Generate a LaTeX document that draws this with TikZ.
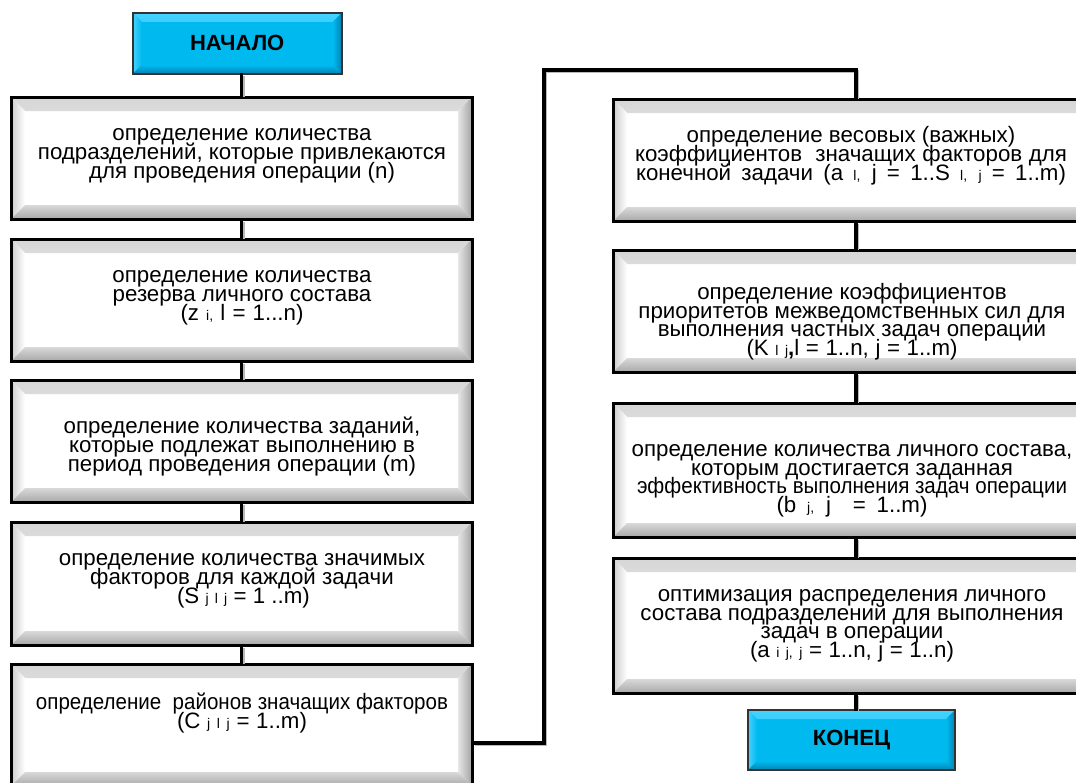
\documentclass[tikz,border=0pt]{standalone}
\usepackage{fontspec}
\usepackage{graphicx}
\setmainfont{Liberation Sans}
\usetikzlibrary{calc}
\newcommand\sm[1]{{\fontsize{14}{14}\selectfont #1}}
\newcommand\fs{\fontsize{22.3}{18.8}\selectfont\lineskiplimit=-40pt\lineskip=0pt}
\newcommand\tstrut{\rule[-5pt]{0pt}{17pt}}
\newcommand\wline[2]{\hbox to #1{\spaceskip=0.28em plus 1fil\relax #2}}
\definecolor{sky}{HTML}{00BAEF}
\definecolor{skyhi}{HTML}{45D2FF}
\definecolor{skylo}{HTML}{0082B4}
\newcommand\drawbevel[9]{%
  \shade[top color=#2,bottom color=#3] (path picture bounding box.north west) -- (path picture bounding box.north east) -- ($(path picture bounding box.north east)+(-#1,-#1)$) -- ($(path picture bounding box.north west)+(#1,-#1)$) -- cycle;
  \shade[left color=#4,right color=#5] (path picture bounding box.north west) -- ($(path picture bounding box.north west)+(#1,-#1)$) -- ($(path picture bounding box.south west)+(#1,#1)$) -- (path picture bounding box.south west) -- cycle;
  \shade[left color=#6,right color=#7] (path picture bounding box.north east) -- ($(path picture bounding box.north east)+(-#1,-#1)$) -- ($(path picture bounding box.south east)+(-#1,#1)$) -- (path picture bounding box.south east) -- cycle;
  \shade[top color=#8,bottom color=#9] (path picture bounding box.south west) -- ($(path picture bounding box.south west)+(#1,#1)$) -- ($(path picture bounding box.south east)+(-#1,#1)$) -- (path picture bounding box.south east) -- cycle;
}
\tikzset{
  wbox/.style={rectangle, draw=black, line width=3pt, fill=white, inner sep=0pt,
    minimum width=461pt, minimum height=122pt,
    path picture={\drawbevel{14pt}{gray!32}{white}{gray!40}{white}{gray!20}{gray!72}{gray!30}{gray!68}}},
  bbox/.style={rectangle, draw=black!80, line width=2pt, fill=sky, inner sep=0pt,
    minimum width=209pt, minimum height=61pt, font=\fontsize{22}{22}\selectfont\bfseries,
    path picture={\drawbevel{9pt}{skyhi}{sky}{skyhi}{sky}{sky}{skylo}{sky}{skylo}}},
  txt/.style={align=center, font=\fs, inner sep=0pt},
  conn/.style={line width=3.5pt, black, line cap=rect,
    preaction={draw=gray!55, line width=3.5pt, transform canvas={shift={(1.5pt,-1.5pt)}}}}
}
\begin{document}
\begin{tikzpicture}[x=1pt,y=-1pt]
\useasboundingbox (0,0) rectangle (1076,782);
\clip (0,0) rectangle (1076,782);

% left column
\node[bbox] (start) at (237.2,43.3) {НАЧАЛО};
\node[wbox] (b1) at (241.5,158) {};
\node[wbox] (b2) at (241.5,300) {};
\node[wbox] (b3) at (241.5,441) {};
\node[wbox, minimum height=123pt] (b4) at (241.5,583.5) {};
\node[wbox] (b5) at (241.5,725) {};

\node[txt] (t1) at (242,156) {\tstrut определение количества\\подразделений, которые привлекаются\\для проведения операции (n)\tstrut};
\node[txt] (t2) at (242,298) {\tstrut определение количества\\резерва личного состава\\\wline{123pt}{(z \sm{i,} l = 1...n)}\tstrut};
\node[txt] (t3) at (242,447) {\tstrut определение количества заданий,\\которые подлежат выполнению в\\период проведения операции (m)\tstrut};
\node[txt] (t4) at (242,581.2) {\tstrut определение количества значимых\\факторов для каждой задачи\\\wline{130pt}{(S \sm{j l j} = 1 ..m)}\tstrut};
\node[txt] (t5) at (242,713.5) {\tstrut\resizebox{412pt}{\height}{определение\ \ районов значащих факторов}\\\wline{130pt}{(C \sm{j l j} = 1..m)}\tstrut};

% right column
\node[wbox, minimum width=486pt] (b6) at (856,160) {};
\node[wbox, minimum width=486pt] (b7) at (856,311) {};
\node[wbox, minimum width=486pt, minimum height=134pt] (b8) at (856,470) {};
\node[wbox, minimum width=486pt, minimum height=135pt] (b9) at (856,625.5) {};
\node[bbox, minimum width=207pt, minimum height=60pt] (end) at (851.5,740) {КОНЕЦ};

\node[txt] (t6) at (851,156) {\tstrut определение весовых (важных)\\\wline{432pt}{коэффициентов\ \ значащих факторов для}\\\wline{430pt}{конечной задачи (a \sm{l,} j = 1..S \sm{l, j} = 1..m)}\tstrut};
\node[txt] (t7) at (852,322) {\tstrut определение коэффициентов\\приоритетов межведомственных сил для\\выполнения частных задач операции\\\wline{211pt}{(K \sm{l j}\textbf{,}l = 1..n, j = 1..m)}\tstrut};
\node[txt] (t8) at (852,481) {\tstrut определение количества личного состава,\\которым достигается заданная\\\resizebox{430pt}{\height}{эффективность выполнения задач операции}\\\wline{151pt}{(b \sm{j,} j\ \ = 1..m)}\tstrut};
\node[txt] (t9) at (852,626) {\tstrut оптимизация распределения личного\\состава подразделений для выполнения\\задач в операции\\\wline{204pt}{(a \sm{i j, j} = 1..n, j = 1..n)}\tstrut};

% connectors
\coordinate (c1) at (544,743);
\coordinate (c2) at (544,70);
\draw[conn] (start.south -| b1.north) -- (b1.north);
\draw[conn] (b1) -- (b2);
\draw[conn] (b2) -- (b3);
\draw[conn] (b3) -- (b4);
\draw[conn] (b4) -- (b5);
\draw[conn] (b5.east |- c1) -- (c1) -- (c2) -- (c2 -| b6.north) -- (b6.north);
\draw[conn] (b6) -- (b7);
\draw[conn] (b7) -- (b8);
\draw[conn] (b8) -- (b9);
\draw[conn] (b9.south) -- (b9.south |- end.north);
\end{tikzpicture}
\end{document}
